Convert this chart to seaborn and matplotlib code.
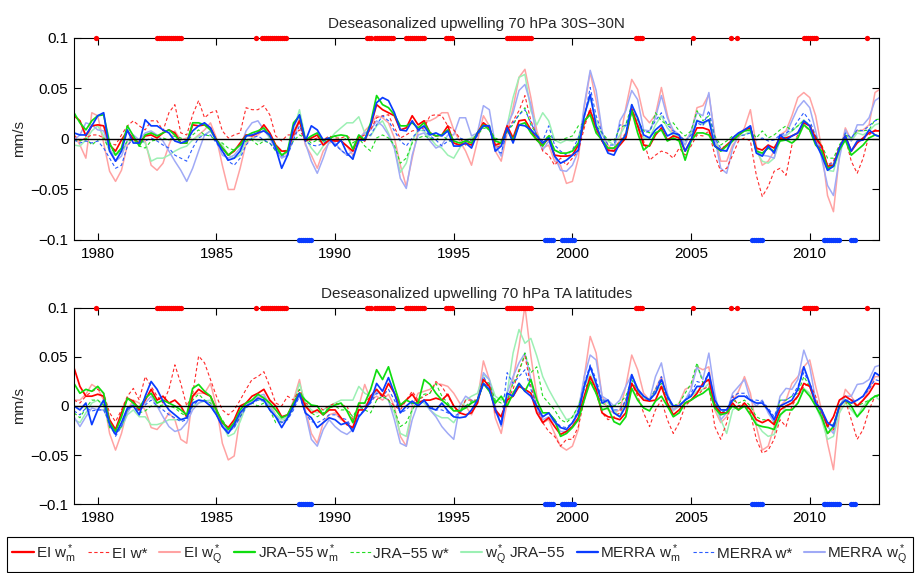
import numpy as np
import matplotlib
matplotlib.use("Agg")
import matplotlib.pyplot as plt
import seaborn as sns
from matplotlib.lines import Line2D

sns.set_theme(style="white")
plt.rcParams['font.family'] = ['Liberation Sans', 'DejaVu Sans']
plt.rcParams['mathtext.fontset'] = 'custom'
plt.rcParams['mathtext.rm'] = 'Liberation Sans'
plt.rcParams['mathtext.it'] = 'Liberation Sans'
plt.rcParams['mathtext.default'] = 'regular'

# ---------------- data (quarterly samples, values in 1e-3 mm/s) ----------------
start_year = 1979.0
step = 0.25
n_samples = 137
years = start_year + step * np.arange(n_samples)

# ---- panel 1: 30S-30N ----
top_ei_wm = [23, 18, 3, 13, 14, 13, -6, -12, -1, 8,
             0, -4, 3, 4, 1, 6, 9, 6, -4, -4,
             14, 13, 14, 11, -1, -9, -16, -12, -4, 4,
             3, 6, 14, 6, -6, -12, -12, 6, 18, -2,
             1, 4, -6, -1, -2, -2, -7,
             -12, 3, -2, 13, 34, 29, 26, 23, 9, 11,
             23, 14, 18, 6, 3, 4, 13, -4, -6, -4,
             -6, 6, 16, 11, -6, -4, 13, 1, 18, 19,
             9, -1, -6, 1, -16, -17, -17, -16, -6, 16,
             28, 11, -2, -11,
             -12, -6, 1, 29, 13, -6, -7, 4, 11, -1,
             3, 1, -12, -1, 11, 11, 9, -7, -11, -6,
             -1, 4, 9, 11, -9, -11, -6, -9, 1, 1,
             3, 6, 16, 13, 1, -7, -27, -26, -9, 3,
             -12, -4, 1, 6, 8, 8]
top_ei_w = [4, -2, 1, 4, 4, 1, -4, -6, 4, 13,
            18, 13, 9, 18, 18, 8, 26, 34, 6, 4,
            24, 38, 21, 26, 28, 8, 1, 4, 6, 31,
            29, 29, 33, 24, 3, -2, 4, 4, 9, -1,
            -1, 1, -1, 3, 1, 1, 3,
            -1, 1, 4, 9, 21, 23, 24, 11, 1, 4,
            8, 9, 11, 23, 24, 23, 13, 9, 1, -6,
            -1, 4, 13, 11, -9, -6, 8, 18, 28, 43,
            18, 4, -12, -16, -26, -19, -26, -19, -12, 11,
            31, 8, -2, -12,
            -9, -2, 6, 31, 14, -2, -21, -16, -12, -14,
            -19, -9, -16, -7, 4, 3, 8, -16, -32, -29,
            -16, -2, 1, -2, -36, -57, -47, -32, -29, -36,
            -6, 4, 14, 8, -2, -12, -26, -22, -7, 1,
            -22, -34, -19, 4, 9, 9]
top_ei_wq = [4, -6, -19, 26, 23, -4, -32, -42, -31, -6,
             1, -1, -2, -26, -31, -24, -6, 8, -1, 1,
             -1, 4, 9, 16, 1, -26, -50, -50, -29, -4,
             1, 4, 9, 4, -7, -16, -14, 4, 21, -6,
             -16, -29, -12, -4, -2, -2, -7,
             -16, -4, 8, 14, 23, 21, 16, 1, -26, -47,
             -19, 8, 18, 18, 21, 26, 26, 9, -2, -12,
             -26, -2, 23, 13, -12, -22, 6, 31, 61, 69,
             41, 8, -9, -6, -22, -26, -44, -42, -19, 31,
             66, 38, 6, -6,
             -12, -1, 31, 59, 49, 23, 16, 24, 51, 24,
             3, 4, -2, 6, 31, 33, 44, 4, -22, -22,
             -6, 1, 11, 29, -7, -26, -22, -12, 4, 8,
             23, 41, 46, 41, 23, -9, -56, -72, -16, 11,
             -1, 8, 9, 14, 46, 50]
top_jra_wm = [26, 16, 9, 18, 23, 24, -4, -16, -9, 13,
              3, -7, 4, 6, 3, 6, 9, 4, -4, -4,
              16, 16, 14, 9, -1, -9, -16, -11, -6, 3,
              6, 8, 11, 3, -7, -16, -12, 16, 23, -1,
              3, 6, -2, 1, 3, 4, 3,
              -10, 4, -1, 16, 43, 34, 31, 24, 13, 13,
              16, 11, 16, 6, 3, 4, 9, -2, -4, -2,
              -4, 6, 14, 9, -2, -4, 9, -1, 14, 16,
              6, -1, -7, 3, -11, -14, -14, -12, -4, 18,
              24, 6, -1, -9,
              -9, -4, 4, 28, 6, -11, -6, 6, 9, -2,
              1, -2, -21, -2, 6, 6, 4, -7, -12, -7,
              -2, 4, 8, 9, -12, -14, -9, -12, -2, -1,
              -4, 1, 14, 9, -6, -12, -29, -27, -11, -1,
              -16, -11, -6, 1, 4, 2]
top_jra_w = [-1, -2, 1, -6, -1, 1, -11, -12, -12, -2,
             -1, -7, -9, -2, -1, 1, -1, 3, 1, -2,
             4, 9, 4, 3, -2, -4, -9, -11, -6, -2,
             -1, -6, -2, -4, -12, -12, -11, -2, 4, 1,
             -4, -1, -4, -1, 3, -2, 1,
             -4, 1, -7, -12, 1, 4, 1, -6, -24, -19,
             -4, 1, 3, 1, -1, 4, -1, -4, -6, -2,
             -1, 4, 11, 9, 1, -2, 8, 14, 24, 31,
             14, 4, -4, 4, -1, -1, 1, 3, 13, 16,
             28, 13, 6, -1,
             -2, 11, 14, 34, 19, 8, 6, 26, 18, 14,
             16, 8, 3, 8, 28, 18, 23, 3, -6, -2,
             3, 4, 8, 9, 1, 8, 1, 4, 9, 13,
             8, 13, 18, 14, 3, -6, -19, -19, -6, 4,
             1, 8, 8, 9, 19, 20]
top_jra_wq = [-6, -7, -1, 8, 13, 3, -12, -16, -12, -2,
              1, -1, -4, -22, -19, -19, -16, -12, -9, -7,
              -1, 3, 4, 8, -1, -6, -16, -19, -16, -1,
              1, -2, -1, 1, -9, -16, -12, 9, 29, 1,
              -9, -16, -7, -1, 6, 11, 16,
              16, 22, 6, 3, 13, 18, 6, -9, -33, -24,
              -2, 9, 8, 1, -6, -9, -16, -19, -9, -1,
              1, 4, 13, 14, -7, -4, 13, 41, 61, 64,
              28, 14, 26, 18, -1, -4, -1, -2, 1, 24,
              41, 19, 4, -2,
              -6, 4, 14, 29, 18, 1, 1, 14, 23, 11,
              4, 3, -2, 4, 19, 14, 19, 1, -12, -11,
              -2, 3, 4, 8, -12, -22, -24, -19, -1, 3,
              8, 13, 19, 13, -2, -14, -31, -32, -12, 4,
              -2, 6, 4, 8, 14, 16]
top_mer_wm = [6, 4, 4, 13, 23, 26, -12, -22, -12, 9,
              -4, -4, 19, 13, 13, 9, 6, -2, -4, -2,
              8, 13, 16, 11, -2, -12, -21, -19, -12, 3,
              4, 6, 8, 4, -9, -29, -16, 13, 24, -2,
              13, 9, -1, 1, -7, -1, -14,
              -20, -1, -1, 14, 36, 41, 38, 26, 9, 8,
              18, 9, 13, 4, 6, 3, 8, -7, -7, -4,
              -9, 6, 13, 13, -12, -7, 11, -4, 14, 13,
              9, 3, -4, 1, -17, -24, -21, -16, -11, 23,
              44, 13, -1, -14,
              -16, -4, 4, 34, 21, 4, 1, 9, 14, 3,
              6, 4, -12, -1, 18, 16, 19, -7, -11, -12,
              1, 6, 9, 13, -14, -17, -7, -14, 4, -1,
              3, 6, 18, 13, -4, -16, -31, -27, -9, 3,
              -12, -2, -1, 9, 4, 2]
top_mer_w = [-1, -4, -2, -4, -2, -9, -19, -29, -26, -7,
             1, -4, -2, 1, -2, -6, -9, -16, -19, -22,
             -9, 1, 4, 4, -4, -12, -22, -26, -19, -6,
             1, 3, -1, -4, -11, -17, -16, -1, 13, -2,
             -6, -7, -4, -1, -6, -11, -16,
             -17, -2, 1, 4, 14, 23, 18, 8, -2, -7,
             1, 8, 9, 3, -1, -7, -2, -1, 1, -1,
             -2, 3, 16, 11, -11, -14, 8, 16, 24, 29,
             16, 4, -2, 13, -6, -12, -16, -11, 1, 21,
             51, 23, 6, -6,
             -6, 14, 13, 28, 13, 6, 8, 18, 26, 14,
             8, 4, -2, 4, 16, 13, 28, 1, -9, -7,
             1, 3, 4, 6, -1, 1, -2, -1, 4, 6,
             9, 18, 26, 18, 3, -11, -26, -24, -9, 6,
             1, 9, 8, 13, 18, 20]
top_mer_wq = [-1, 4, 16, 14, 9, 8, -9, -22, -17, -1,
              4, -1, 6, 8, 4, -2, -12, -22, -31, -42,
              -29, -12, 4, 8, -2, -16, -19, -16, -9, 8,
              16, 18, 9, 1, -11, -19, -16, 1, 18, -4,
              -22, -34, -19, -2, -4, -11, -16,
              -12, 1, 6, 9, 18, 13, 4, -9, -39, -49,
              -16, 4, 6, -2, -9, -6, 4, 4, 21, 21,
              3, 6, 33, 29, -6, -17, 14, 26, 48, 54,
              34, 1, -11, -2, -17, -31, -32, -26, -12, 34,
              68, 48, 8, -12,
              -12, 18, 28, 48, 39, 9, 8, 21, 43, 21,
              9, 4, -6, 8, 26, 23, 46, 1, -29, -34,
              -9, 4, 9, 13, -12, -16, -17, -19, 3, 4,
              18, 31, 38, 31, 8, -19, -46, -56, -19, 9,
              -2, 14, 14, 21, 38, 42]

# ---- panel 2: TA latitudes ----
bot_ei_wm = [39, 20, 10, 10, 12, 10, -14, -24, -7, 8,
             5, -4, 6, 17, 6, 10, 3, 6, 0, -11,
             10, 17, 13, 10, -4, -17, -22, -14, 0, 3,
             10, 13, 17, 6, 0, -11, -9, 3, 13, 0,
             -7, -4, -9, -4, -4, -12, -19,
             -22, -4, -4, 10, 17, 10, 23, 13, 0, 6,
             12, 3, 6, 6, 8, 6, 12, 0, -7, -9,
             -7, 3, 27, 20, -4, -11, 6, 10, 20, 17,
             13, -7, -17, -12, -21, -29, -26, -21, -12, 10,
             30, 17, -7, -11,
             -12, -14, -7, 23, 13, 6, 5, 6, 20, 3,
             -9, -4, 3, 6, 13, 23, 27, 0, -7, -7,
             3, -4, 3, -4, -14, -17, -14, -19, -4, 0,
             3, 10, 23, 20, 3, -4, -21, -11, 6, 10,
             6, 0, 6, 13, 23, 22]
bot_ei_w = [6, 3, 10, 15, 17, 13, -7, -16, -4, 10,
            18, 6, 30, 20, 10, 3, 17, 42, 23, 0,
            12, 51, 44, 27, 10, -4, -9, -4, 6, 17,
            27, 30, 35, 20, 3, 0, 10, 6, 17, 3,
            0, 0, -4, 0, 3, 1, 0,
            -14, 0, 3, 10, 6, 13, 6, 0, -4, 6,
            15, 6, 10, 13, 25, 20, 10, 0, -7, 6,
            6, 6, 23, 20, -7, -11, 6, 17, 37, 51,
            20, 0, -17, -26, -31, -41, -34, -34, -21, 6,
            27, 13, -7, -14,
            -11, -7, 6, 23, 10, -7, -21, -4, 6, -14,
            -28, -17, 0, 6, 10, 17, 20, -21, -34, -17,
            10, 0, 3, -7, -34, -48, -45, -34, -14, -21,
            0, 10, 20, 23, 10, -11, -28, -24, 0, 6,
            -14, -34, -24, -4, 10, 10]
bot_ei_wq = [6, 6, 12, 22, 18, 6, -28, -45, -28, -4,
             6, 3, -4, -22, -24, -17, -7, -14, -34, -38,
             10, 13, 13, 23, 0, -38, -55, -51, -11, 0,
             6, 8, 10, 3, -9, -14, -11, 6, 27, -4,
             -28, -38, -17, -9, -7, -14, -17,
             -24, 0, 22, 6, 10, 6, 12, 0, -31, -41,
             0, 13, 15, 17, 23, 22, 20, 13, 3, 0,
             -9, 6, 46, 27, -12, -28, 3, 27, 61, 102,
             51, 10, -17, -14, -28, -41, -45, -41, -24, 30,
             71, 54, 10, -4,
             -7, -4, 20, 52, 37, 13, 6, 17, 30, 10,
             -4, 3, 17, 20, 40, 37, 40, -4, -17, -11,
             5, 15, 30, 13, -21, -45, -41, -21, 0, 6,
             23, 30, 40, 47, 20, -4, -38, -65, -7, 17,
             10, 0, 6, 17, 30, 30]
bot_jra_wm = [23, 13, 17, 15, 20, 13, -17, -26, -11, 8,
              3, -2, 8, 13, 3, 6, 3, 0, -4, -9,
              18, 22, 15, 10, -4, -16, -24, -17, -4, 3,
              6, 12, 8, 3, -4, -12, -9, 3, 13, 6,
              1, 0, -9, -2, 1, 3, -5,
              -17, 3, 3, 17, 37, 27, 40, 20, 1, 6,
              3, 3, 27, 22, 13, 6, 1, -5, -5, -2,
              3, 6, 23, 15, 3, 10, 0, 13, 23, 15,
              27, 6, -7, -7, -14, -31, -28, -22, -14, 6,
              25, 13, -4, -2,
              -16, -19, -11, 18, 6, -2, -5, 5, 10, 0,
              -11, -7, 3, 6, 10, 13, 18, -2, -9, -7,
              0, -4, 0, -9, -19, -21, -22, -24, -9, -4,
              -4, 3, 17, 10, 0, -11, -28, -21, 0, 6,
              0, -11, -4, 5, 10, 12]
bot_jra_w = [-7, -12, -2, 6, 6, 1, -22, -28, -21, -4,
             3, -7, -5, 0, 0, 1, 0, -2, -7, -11,
             6, 12, 6, 3, -7, -14, -24, -21, -11, 0,
             3, 0, 3, -4, -17, -16, -14, 0, 17, 1,
             -7, -11, -7, -2, 0, -4, -4,
             -11, 0, -4, -7, 6, 10, 6, -4, -21, -17,
             -4, 6, 12, 13, 23, 10, 3, -4, -4, 0,
             5, 6, 27, 23, 6, 3, 6, 23, 34, 54,
             34, 40, 10, 3, -4, -14, -17, -11, 0, 17,
             27, 13, 3, 0,
             0, 3, 10, 27, 15, 10, 6, 17, 23, 6,
             0, 3, 13, 23, 44, 23, 27, 3, -7, -4,
             6, 3, 6, 0, -11, -14, -14, -17, 6, 6,
             10, 13, 30, 20, 3, -7, -21, -19, 0, 6,
             3, 0, 3, 6, 10, 10]
bot_jra_wq = [-14, -17, -7, 3, 6, 0, -21, -26, -22, -9,
              -4, -11, -11, -19, -19, -17, -14, -14, -14, -12,
              0, 3, 5, 6, -4, -19, -31, -28, -16, 0,
              5, 6, 6, 0, -9, -14, -11, 3, 23, 3,
              -4, -7, -4, 0, 3, 6, 6,
              6, 20, 13, 10, 17, 10, 6, -7, -28, -31,
              -4, 6, 3, -4, -9, -12, -12, -17, -7, 6,
              10, 13, 32, 27, 10, 6, 13, 54, 78, 64,
              69, 51, 30, 17, 6, -4, -14, -12, 0, 20,
              32, 20, 6, 3,
              -4, -11, 6, 23, 13, 8, 6, 15, 20, 3,
              -5, 0, 6, 10, 15, 17, 23, 0, -14, -28,
              -4, 0, 0, -4, -17, -26, -31, -29, -11, 0,
              3, 10, 18, 13, 0, -14, -34, -31, -7, 3,
              -4, -11, 0, 6, 10, 5]
bot_mer_wm = [0, -4, 3, -19, -4, 6, -19, -29, -17, -2,
              0, -9, 10, 25, 17, 5, -4, -9, -14, -12,
              3, 6, 5, 0, -9, -21, -28, -19, -7, 0,
              3, 8, 6, -4, -11, -22, -12, 0, 13, -7,
              -12, -22, -17, -12, -14, -19, -17,
              -26, -11, -4, 5, 23, 15, 29, 13, -7, 0,
              5, 0, 6, -2, -4, 3, -5, -11, -12, -11,
              -4, 6, 23, 17, -4, -19, 13, 10, 23, 15,
              10, 0, -11, -7, -16, -22, -24, -17, -7, 20,
              40, 23, 3, 6,
              -7, -11, 0, 32, 17, 10, 6, 13, 27, 10,
              0, 0, 6, 10, 20, 20, 34, 6, -4, -4,
              6, 10, 10, 6, 3, 3, -4, -14, 0, 3,
              6, 17, 40, 23, 3, -4, -17, -21, 0, 6,
              3, 6, 10, 20, 34, 30]
bot_mer_w = [-5, -9, -2, -5, -4, -4, -17, -31, -21, -4,
             0, -5, 1, 6, 0, -4, -9, -12, -16, -14,
             0, 6, 5, 0, -9, -21, -26, -22, -11, -2,
             3, 6, 5, -4, -11, -17, -14, -4, 10, -7,
             -16, -17, -14, -9, -9, -12, -14,
             -24, -9, -4, 3, 13, 10, 17, 6, -7, -4,
             3, 1, 5, 0, -4, -4, -7, -11, -7, 0,
             3, 6, 30, 20, -4, -17, 34, 23, 30, 37,
             17, 0, -11, -7, -14, -21, -22, -17, -4, 23,
             42, 27, 6, 6,
             -4, -4, 6, 30, 17, 6, 6, 17, 30, 8,
             0, 1, 6, 13, 25, 23, 34, 3, -7, -4,
             10, 13, 13, 6, 6, 5, -2, -11, 6, 6,
             10, 20, 34, 23, 3, -7, -17, -19, 0, 6,
             6, 6, 10, 17, 27, 25]
bot_mer_wq = [-11, -21, -11, -2, -4, -4, -17, -26, -21, -7,
              3, -2, 3, 10, 0, -11, -21, -26, -24, -17,
              -4, 3, 6, 3, -7, -19, -26, -22, -11, 0,
              6, 10, 12, 0, -11, -17, -12, -2, 12, -7,
              -34, -41, -24, -14, -21, -26, -29,
              -24, -4, 0, 6, 15, 10, 6, -14, -38, -41,
              -14, 3, 6, -4, -11, -21, -28, -34, 0, 10,
              6, 3, 34, 27, 0, -21, 13, 30, 44, 54,
              27, -4, -14, -11, -17, -26, -26, -21, -4, 30,
              52, 47, 10, 6,
              0, 6, 20, 32, 18, 10, 6, 30, 44, 13,
              -4, 0, 6, 17, 40, 27, 54, 13, -14, -7,
              13, 20, 27, 6, 0, 6, -7, -17, 10, 18,
              17, 27, 57, 40, 6, -7, -21, -28, 0, 10,
              10, 22, 23, 27, 40, 42]

# ENSO event periods (start, end) in decimal years, monthly markers
nino_periods = [(1979.92, 1979.92), (1982.5, 1983.58), (1986.67, 1986.75),
                (1986.92, 1988.0), (1991.33, 1991.5), (1991.67, 1992.42),
                (1993.0, 1993.75), (1994.67, 1995.0), (1997.25, 1998.33),
                (2002.67, 2002.92), (2005.08, 2005.08), (2006.67, 2006.67),
                (2006.92, 2006.92), (2009.75, 2010.25), (2012.42, 2012.42)]
nina_periods = [(1988.5, 1989.08), (1998.83, 1999.17), (1999.58, 2000.08),
                (2007.58, 2008.0), (2010.58, 2011.25), (2011.75, 2011.92)]

legend_labels = ["EI w$_m^*$", "EI w*", "EI w$_Q^*$",
                 "JRA\u221255 w$_m^*$", "JRA\u221255 w*", "w$_Q^*$ JRA\u221255",
                 "MERRA w$_m^*$", "MERRA w*", "MERRA w$_Q^*$"]
titles = ["Deseasonalized upwelling 70 hPa 30S\u221230N",
          "Deseasonalized upwelling 70 hPa TA latitudes"]
ytick_vals = [-0.1, -0.05, 0, 0.05, 0.1]
ytick_labels = ["\u22120.1", "\u22120.05", "0", "0.05", "0.1"]
xtick_vals = [1980, 1985, 1990, 1995, 2000, 2005, 2010]

# ---------------- styles ----------------
dash = (0, (3.0, 2.2))
styles = [
    dict(color='#ff0000', lw=1.25, ls='-'),     # EI wm
    dict(color='#ff2a2a', lw=0.8, ls=dash),     # EI w
    dict(color='#ffa3a3', lw=1.1, ls='-'),      # EI wQ
    dict(color='#10dd10', lw=1.25, ls='-'),     # JRA wm
    dict(color='#22dd22', lw=0.8, ls=dash),     # JRA w
    dict(color='#9cf0b4', lw=1.1, ls='-'),      # JRA wQ
    dict(color='#0a3cff', lw=1.25, ls='-'),     # MERRA wm
    dict(color='#2b5cff', lw=0.8, ls=dash),     # MERRA w
    dict(color='#a0aaf6', lw=1.1, ls='-'),      # MERRA wQ
]
draw_order = [2, 5, 8, 1, 4, 7, 0, 3, 6]

panels = [
    [top_ei_wm, top_ei_w, top_ei_wq, top_jra_wm, top_jra_w, top_jra_wq,
     top_mer_wm, top_mer_w, top_mer_wq],
    [bot_ei_wm, bot_ei_w, bot_ei_wq, bot_jra_wm, bot_jra_w, bot_jra_wq,
     bot_mer_wm, bot_mer_w, bot_mer_wq],
]

def months(periods):
    out = []
    for a, b in periods:
        out.extend(np.arange(a, b + 1e-6, 1 / 12))
    return np.array(out)

nino_t = months(nino_periods)
nina_t = months(nina_periods)

fig = plt.figure(figsize=(9.17, 5.73), dpi=100)
axes_rects = [[0.0807, 0.5812, 0.8779, 0.3525],
              [0.0807, 0.1204, 0.8779, 0.3421]]

for rect, series, title in zip(axes_rects, panels, titles):
    ax = fig.add_axes(rect)
    ax.set_facecolor('white')
    for i in draw_order:
        st = styles[i]
        vals = np.asarray(series[i], dtype=float) / 1000.0
        sns.lineplot(x=years, y=vals, ax=ax, color=st['color'], linewidth=st['lw'],
                     linestyle=st['ls'], estimator=None, sort=False, legend=False)
    ax.axhline(0, color='black', lw=1.0, zorder=5)
    ax.plot(nino_t, np.full(len(nino_t), 0.1), 'o', color='#ff0000', ms=3.8,
            mec='none', clip_on=False, zorder=6)
    ax.plot(nina_t, np.full(len(nina_t), -0.1), 'o', color='#0a3cff', ms=3.8,
            mec='none', clip_on=False, zorder=6)
    ax.set_xlim(1979.0, 2012.92)
    ax.set_ylim(-0.1, 0.1)
    ax.set_xticks(xtick_vals)
    ax.set_xticklabels([str(v) for v in xtick_vals])
    ax.set_yticks(ytick_vals)
    ax.set_yticklabels(ytick_labels)
    ax.set_xlabel('')
    ax.set_ylabel('mm/s', fontsize=11, labelpad=3)
    ax.set_title(title, fontsize=11, pad=7)
    ax.tick_params(axis='both', which='both', direction='in', length=5, width=0.8,
                   colors='black', labelsize=11, top=True, right=True,
                   bottom=True, left=True)
    ax.tick_params(axis='x', pad=5)
    ax.tick_params(axis='y', pad=4)
    for sp in ax.spines.values():
        sp.set_visible(True)
        sp.set_color('black')
        sp.set_linewidth(0.8)
    ax.grid(False)

handles = [Line2D([0], [0], color=s['color'], lw=s['lw'] + 0.4 if s['ls'] == '-' else s['lw'],
                  linestyle=s['ls']) for s in styles]
leg = fig.legend(handles, legend_labels, loc='lower left',
                 bbox_to_anchor=(0.0076, 0.002, 0.988, 0.060), mode='expand',
                 ncol=9, frameon=True, fancybox=False, edgecolor='black',
                 fontsize=11, handlelength=1.4, handletextpad=0.15,
                 columnspacing=0.2, borderaxespad=0.0, borderpad=0.35)
leg.get_frame().set_linewidth(0.8)
leg.get_frame().set_alpha(1)

fig.savefig('out.png', dpi=100, facecolor='white')
